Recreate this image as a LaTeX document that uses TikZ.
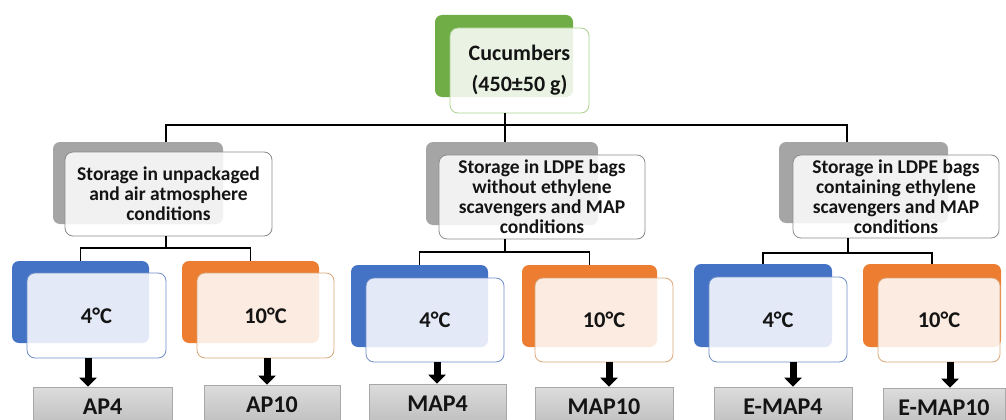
\documentclass[tikz,border=0pt]{standalone}
\usepackage{fontspec}
\setmainfont{Carlito}
\usetikzlibrary{arrows.meta}
\definecolor{cgreen}{HTML}{70AD47}
\definecolor{cgreenln}{HTML}{A9D18E}
\definecolor{cblue}{HTML}{4472C4}
\definecolor{cblueln}{HTML}{6F8FC9}
\definecolor{corange}{HTML}{ED7D31}
\definecolor{corangeln}{HTML}{D9A679}
\definecolor{cgrey}{HTML}{A5A5A5}
\definecolor{cgreyln}{HTML}{8C8C8C}
\definecolor{ctext}{HTML}{141414}
\definecolor{rtop}{HTML}{DCDCDC}
\definecolor{rbot}{HTML}{BEBEBE}
\definecolor{rline}{HTML}{A8A8A8}
\begin{document}
\begin{tikzpicture}[x=1pt,y=-1pt,
  back/.style={rectangle, rounded corners=7pt, inner sep=0pt, draw=none},
  front/.style={rectangle, rounded corners=8pt, inner sep=0pt, fill=white,
    fill opacity=0.85, text opacity=1, line width=0.8pt, align=center,
    text=ctext},
  lvltxt/.style={font=\bfseries\fontsize{19.5}{20}\selectfont},
  temptxt/.style={font=\bfseries\fontsize{22.5}{24}\selectfont},
  result/.style={rectangle, inner sep=0pt, top color=rtop, bottom color=rbot,
    draw=rline, line width=0.6pt, text=ctext,
    font=\bfseries\fontsize{24}{26}\selectfont, minimum height=40pt},
  conn/.style={draw=black, line width=1.1pt},
  blockarrow/.style={draw=black, line width=7pt,
    -{Triangle[width=17pt,length=9pt]}}
]
\useasboundingbox (0,0) rectangle (1006,420);
\clip (0,0) rectangle (1006,420);

% top
\node[back, fill=cgreen, minimum width=138pt, minimum height=82pt] (tb) at (504,56) {};
\node[front, draw=cgreenln, minimum width=139pt, minimum height=85pt,
  font=\bfseries\fontsize{22}{31}\selectfont] (tf) at (519.5,70.5) {Cucumbers\\(450±50 g)};

% second level
\node[back, fill=cgrey, minimum width=170pt, minimum height=82pt] (Lb) at (138,183) {};
\node[front, lvltxt, draw=cgreyln, minimum width=207pt, minimum height=84pt] (Lf) at (168.5,194)
  {Storage in unpackaged\\and air atmosphere\\conditions};
\node[back, fill=cgrey, minimum width=172pt, minimum height=83pt] (Mb) at (512,183.5) {};
\node[front, lvltxt, draw=cgreyln, minimum width=206pt, minimum height=84pt] (Mf) at (542,197)
  {Storage in LDPE bags\\without ethylene\\scavengers and MAP\\conditions};
\node[back, fill=cgrey, minimum width=169pt, minimum height=81pt] (Rb) at (863.5,182.5) {};
\node[front, lvltxt, draw=cgreyln, minimum width=206pt, minimum height=83pt] (Rf) at (896,196.5)
  {Storage in LDPE bags\\containing ethylene\\scavengers and MAP\\conditions};

% third level
\node[back, fill=cblue, minimum width=137pt, minimum height=82pt] (b1b) at (80.5,302) {};
\node[front, temptxt, draw=cblueln, minimum width=139pt, minimum height=85pt] (b1f) at (96.5,315.5) {4°C};
\node[back, fill=corange, minimum width=137pt, minimum height=82pt] (o1b) at (250.5,302) {};
\node[front, temptxt, draw=corangeln, minimum width=137pt, minimum height=85pt] (o1f) at (265.5,315.5) {10°C};

\node[back, fill=cblue, minimum width=137pt, minimum height=82pt] (b2b) at (419.5,306) {};
\node[front, temptxt, draw=cblueln, minimum width=138pt, minimum height=84pt] (b2f) at (435,320) {4°C};
\node[back, fill=corange, minimum width=135pt, minimum height=82pt] (o2b) at (589.5,306) {};
\node[front, temptxt, draw=corangeln, minimum width=138pt, minimum height=84pt] (o2f) at (604,320) {10°C};

\node[back, fill=cblue, minimum width=138pt, minimum height=83pt] (b3b) at (763,305.5) {};
\node[front, temptxt, draw=cblueln, minimum width=138pt, minimum height=85pt] (b3f) at (778,319.5) {4°C};
\node[back, fill=corange, minimum width=138pt, minimum height=83pt] (o3b) at (932,305.5) {};
\node[front, temptxt, draw=corangeln, minimum width=122pt, minimum height=84pt] (o3f) at (939,320) {10°C};

% results
\node[result, minimum width=139pt] (r1) at (102.5,407) {AP4};
\node[result, minimum width=136pt] (r2) at (272,405) {AP10};
\node[result, minimum width=137pt] (r3) at (437.5,404) {MAP4};
\node[result, minimum width=138pt] (r4) at (604,407) {MAP10};
\node[result, minimum width=138pt] (r5) at (783,407) {E-MAP4};
\node[result, minimum width=122pt] (r6) at (944,408) {E-MAP10};

% junction coordinates
\coordinate (jl) at (166,125);
\coordinate (jm) at (505,125);
\coordinate (jr) at (847,125);
\coordinate (g1) at (166,248);
\coordinate (g2) at (505,252);
\coordinate (g3) at (848,253);

% connectors
\draw[conn, line width=1.4pt] (jl |- Lb.north) -- (jl) -- (jr) -- (jr |- Rb.north);
\draw[conn, line width=1.4pt] (jm |- tf.south) -- (jm);
\draw[conn] (jm) -- (jm |- Mb.north);

\draw[conn] (g1 |- Lf.south) -- (g1);
\draw[conn] (b1b.north) |- (g1) -| (o1b.north);
\draw[conn] (g2 |- Mf.south) -- (g2);
\draw[conn] (b2b.north) |- (g2) -| (o2b.north);
\draw[conn] (g3 |- Rf.south) -- (g3);
\draw[conn] (b3b.north) |- (g3) -| (o3b.north);

% arrows
\coordinate (a1) at (88,0);
\coordinate (a2) at (267,0);
\coordinate (a3) at (437,0);
\coordinate (a4) at (609,0);
\coordinate (a5) at (793,0);
\coordinate (a6) at (950,0);
\draw[blockarrow] (b1f.south -| a1) -- (r1.north -| a1);
\draw[blockarrow] (o1f.south -| a2) -- (r2.north -| a2);
\draw[blockarrow] (b2f.south -| a3) -- (r3.north -| a3);
\draw[blockarrow] (o2f.south -| a4) -- (r4.north -| a4);
\draw[blockarrow] (b3f.south -| a5) -- (r5.north -| a5);
\draw[blockarrow] (o3f.south -| a6) -- (r6.north -| a6);
\end{tikzpicture}
\end{document}
